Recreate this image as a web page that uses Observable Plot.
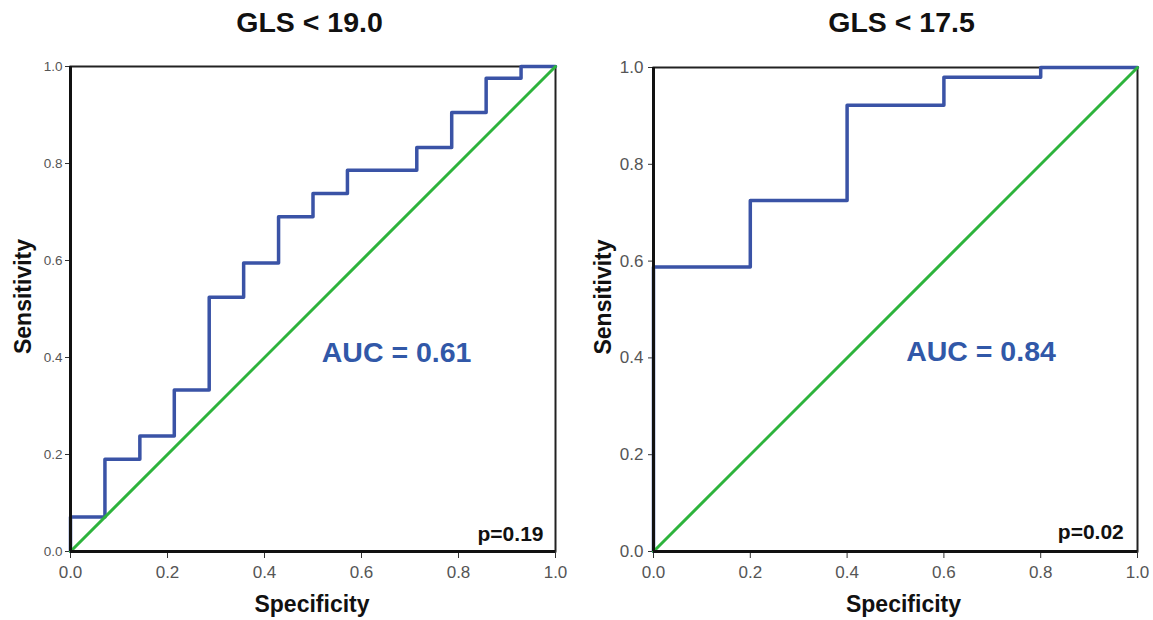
<!DOCTYPE html>
<html><head><meta charset="utf-8">
<script src="https://cdn.jsdelivr.net/npm/d3@7"></script>
<script src="https://cdn.jsdelivr.net/npm/@observablehq/plot@0.6"></script>
<style>
body{margin:0;background:#fff;width:1153px;height:620px;overflow:hidden;font-family:Arial,"Liberation Sans",Helvetica,sans-serif}
#wrap{position:relative;width:1153px;height:620px}
#wrap svg{position:absolute;top:0}
</style></head><body><div id="wrap"></div>
<script>
// ---- data ----
const tickValues = [0, 0.2, 0.4, 0.6, 0.8, 1.0];
const refLine = [0, 1];
const titles = ["GLS < 19.0", "GLS < 17.5"];
const aucLabels = ["AUC = 0.61", "AUC = 0.84"];
const pLabels = ["p=0.19", "p=0.02"];
const xLabel = "Specificity";
const yLabel = "Sensitivity";
// left panel ROC (GLS < 19.0)
const specA = [0, 0, 0.071, 0.143, 0.214, 0.286, 0.357, 0.429, 0.5, 0.571, 0.714, 0.786, 0.857, 0.929, 1.0];
const sensA = [0, 0.071, 0.190, 0.238, 0.333, 0.524, 0.595, 0.690, 0.738, 0.786, 0.833, 0.905, 0.976, 1.0, 1.0];
// right panel ROC (GLS < 17.5)
const specB = [0, 0, 0.2, 0.4, 0.6, 0.8, 1.0];
const sensB = [0, 0.588, 0.725, 0.922, 0.980, 1.0, 1.0];

const blue = "#3A53A6", green = "#2DB33C", aucBlue = "#3158A8";
const font = "Arial, 'Liberation Sans', Helvetica, sans-serif";

function panel(o) {
  return Plot.plot({
    width: 576, height: 620,
    marginLeft: o.ml, marginRight: o.mr, marginTop: o.mt, marginBottom: 69,
    style: {fontFamily: font, background: "transparent", overflow: "visible"},
    x: {domain: [0, 1], ticks: tickValues, tickFormat: d3.format(".1f")},
    y: {domain: [0, 1], ticks: tickValues, tickFormat: d3.format(".1f")},
    marks: [
      Plot.frame({stroke: "#222", strokeWidth: 2}),
      Plot.axisX({ticks: tickValues, tickFormat: d3.format(".1f"), label: null, tickSize: 7, tickPadding: 7,
        fontSize: 17, color: "#555", stroke: "#333"}),
      Plot.axisY({ticks: tickValues, tickFormat: d3.format(".1f"), label: null, tickSize: 5, tickPadding: o.yPad,
        fontSize: o.yFont, color: "#555", stroke: "#333"}),
      Plot.line(o.spec, {x: o.spec, y: o.sens, curve: "step-after", stroke: blue, strokeWidth: 3.5}),
      Plot.line(refLine, {x: refLine, y: refLine, stroke: green, strokeWidth: 3}),
      Plot.ruleX([0], {stroke: "#111", strokeWidth: 3}),
      Plot.ruleY([0], {stroke: "#111", strokeWidth: 3}),
      Plot.text([o.title], {frameAnchor: "top", dx: o.titleDx, dy: o.titleDy, lineAnchor: "middle", textAnchor: "middle",
        fontSize: 28.5, fontWeight: "bold", fill: "#111"}),
      Plot.text([yLabel], {frameAnchor: "left", dx: o.yLabDx, dy: -12.5, rotate: -90, lineAnchor: "middle", textAnchor: "middle",
        fontSize: 23, fontWeight: "bold", fill: "#111"}),
      Plot.text([xLabel], {frameAnchor: "bottom", dx: o.xLabDx, dy: 53.6, lineAnchor: "middle", textAnchor: "middle",
        fontSize: 23, fontWeight: "bold", fill: "#111"}),
      Plot.text([o.auc], {x: o.aucX, y: o.aucY, textAnchor: "start", lineAnchor: "middle",
        fontSize: 28.5, fontWeight: "bold", fill: aucBlue}),
      Plot.text([o.p], {frameAnchor: "bottom-right", dx: o.pDx, dy: o.pDy, textAnchor: "end", lineAnchor: "middle",
        fontSize: 21, fontWeight: "bold", fill: "#111"})
    ]
  });
}

const wrap = document.getElementById("wrap");
const left = panel({spec: specA, sens: sensA, title: titles[0], auc: aucLabels[0], p: pLabels[0],
  ml: 70, mr: 21, mt: 66, yFont: 13.5, yPad: 3, titleDx: -3.5, titleDy: -43.3, yLabDx: -47, xLabDx: -1,
  aucX: 0.518, aucY: 0.409, pDx: -12, pDy: -17});
left.style.left = "0px";
const right = panel({spec: specB, sens: sensB, title: titles[1], auc: aucLabels[1], p: pLabels[1],
  ml: 76, mr: 16, mt: 67, yFont: 17, yPad: 5, titleDx: 6, titleDy: -44.3, yLabDx: -50, xLabDx: 8,
  aucX: 0.522, aucY: 0.413, pDx: -13.7, pDy: -19.7});
right.style.left = "577px";
wrap.appendChild(left);
wrap.appendChild(right);
</script>
</body></html>
